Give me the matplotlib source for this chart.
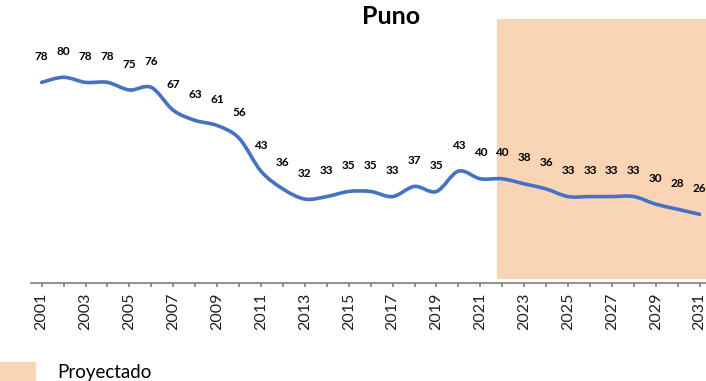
import numpy as np
import matplotlib
matplotlib.use("Agg")
import matplotlib.pyplot as plt
from matplotlib.path import Path
from matplotlib.patches import PathPatch, Patch

plt.rcParams['font.family'] = ['Lato', 'DejaVu Sans']

# Puno series, observed up to 2021 and projected from 2022
years = list(range(2001, 2032))
values = [78, 80, 78, 78, 75, 76, 67, 63, 61, 56, 43, 36, 32, 33, 35, 35, 33,
          37, 35, 43, 40, 40, 38, 36, 33, 33, 33, 33, 30, 28, 26]
proj_start = 2022
title = "Puno"
legend_label = "Proyectado"

line_color = "#4472C4"
shade_color = "#FAD5B5"


def smooth_path(xs, ys):
    # Bezier curve through every point, like a spreadsheet "smoothed line"
    pts = np.column_stack([xs, ys]).astype(float)
    n = len(pts)
    verts = [pts[0]]
    codes = [Path.MOVETO]
    for i in range(n - 1):
        p0 = pts[max(i - 1, 0)]
        p1 = pts[i]
        p2 = pts[i + 1]
        p3 = pts[min(i + 2, n - 1)]
        c1 = p1 + (p2 - p0) / 6.0
        c2 = p2 - (p3 - p1) / 6.0
        verts += [c1, c2, p2]
        codes += [Path.CURVE4] * 3
    return Path(verts, codes)


fig = plt.figure(figsize=(7.06, 3.81), dpi=100)
ax = fig.add_axes([0.0435, 0.258, 0.963, 0.692])
ax.set_xlim(2000.5, 2031.5)
ax.set_ylim(-0.95, 102.95)

# projected period shading
ax.axvspan(proj_start - 0.26, 2031.5, ymin=0.015, ymax=1, color=shade_color,
           lw=0, zorder=1)

ax.add_patch(PathPatch(smooth_path(years, values), fill=False,
                       edgecolor=line_color, lw=2.6, capstyle='round', zorder=3))

for x, v in zip(years, values):
    ax.annotate(str(v), (x, v), xytext=(0, 18.7), textcoords='offset points',
                ha='center', va='center', fontsize=8.5, fontweight='bold',
                color='black', zorder=4)

for s in ['top', 'right', 'left']:
    ax.spines[s].set_visible(False)
ax.spines['bottom'].set_color('#808080')
ax.spines['bottom'].set_linewidth(1.2)
ax.set_yticks([])
ax.set_xticks(years)
ax.set_xticklabels([str(y) if y % 2 == 1 else '' for y in years],
                   rotation=90, fontsize=11.5, color='#202020')
ax.tick_params(axis='x', direction='out', length=3, width=1.2,
               color='#808080', pad=4)

fig.text(391 / 706, 0.958, title, ha='center', va='center',
         fontsize=18, fontweight='bold')

fig.legend(handles=[Patch(facecolor=shade_color, edgecolor='none',
                          label=legend_label)],
           loc='lower left', bbox_to_anchor=(-3 / 706, 0),
           frameon=False, fontsize=13.5, handlelength=2.1, handleheight=1.2,
           handletextpad=1.1, borderpad=0, borderaxespad=0)

fig.savefig("out.png", dpi=100)
